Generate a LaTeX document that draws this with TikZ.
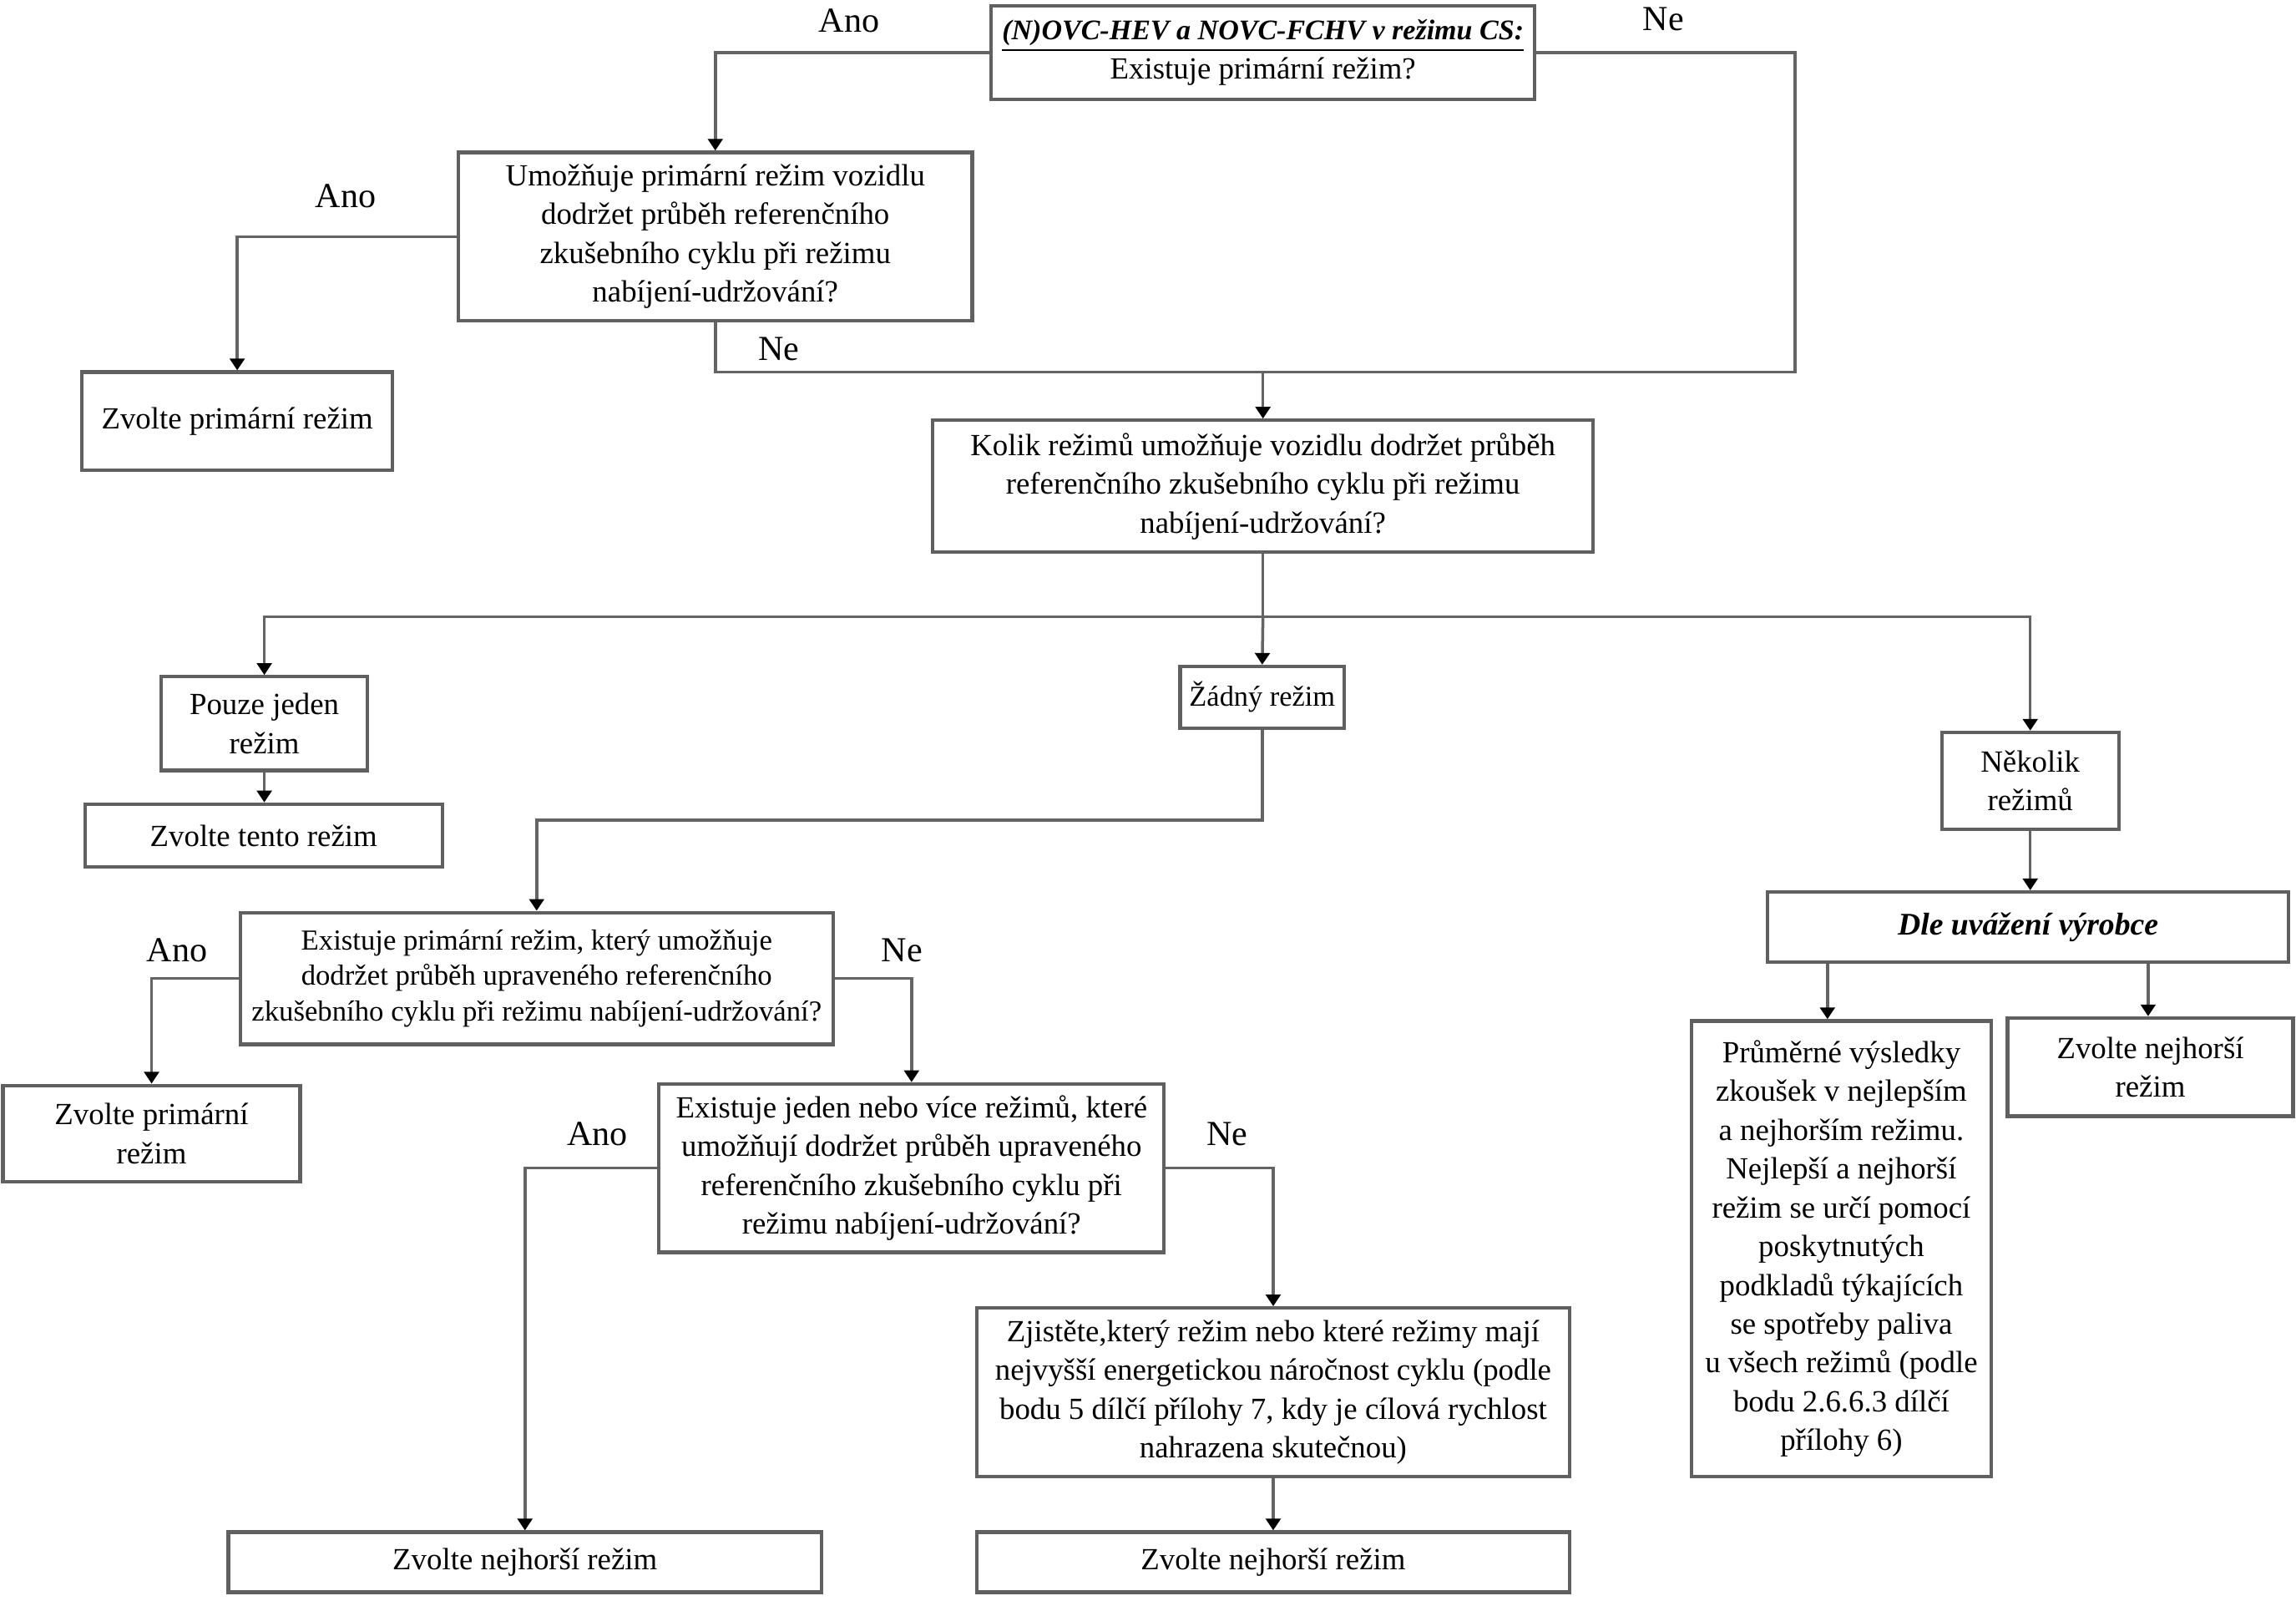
\documentclass[tikz,border=0pt]{standalone}
\usepackage{fontspec}
\setmainfont{Liberation Serif}
\usetikzlibrary{arrows.meta}
\definecolor{boxgray}{RGB}{96,96,96}
\definecolor{linegray}{RGB}{100,100,100}
\begin{document}
\begin{tikzpicture}[x=0.5pt,y=-0.5pt,
  box/.style={draw=boxgray, line width=1.2pt, fill=white, inner sep=0pt, align=center,
              font=\fontsize{10.5}{13.25}\selectfont},
  conn/.style={draw=linegray, line width=1pt},
  arr/.style={conn, -{Triangle[width=5pt,length=4pt,color=black]}},
  lbl/.style={font=\fontsize{12}{14}\selectfont, inner sep=0pt}]

\useasboundingbox (0,0) rectangle (1568,1093);

% boxes
\node[box, minimum width=185.5pt, minimum height=32pt] (top) at (862.5,36)
  {{\fontsize{9.7}{12}\selectfont\bfseries\itshape\underline{(N)OVC-HEV a NOVC-FCHV v režimu CS:}}\\ Existuje primární režim?};
\node[box, minimum width=175.5pt, minimum height=57.5pt] (q1) at (488.5,161.5)
  {Umožňuje primární režim vozidlu\\ dodržet průběh referenčního\\ zkušebního cyklu při režimu\\ nabíjení-udržování?};
\node[box, minimum width=106pt, minimum height=33.5pt] (sel1) at (162,287.5)
  {Zvolte primární režim};
\node[box, minimum width=225.5pt, minimum height=45pt] (q2) at (862.5,332)
  {Kolik režimů umožňuje vozidlu dodržet průběh\\ referenčního zkušebního cyklu při režimu\\ nabíjení-udržování?};
\node[box, minimum width=70.5pt, minimum height=32pt] (one) at (180.5,494)
  {Pouze jeden\\ režim};
\node[box, minimum width=122pt, minimum height=21.5pt] (thisone) at (180,570.5)
  {Zvolte tento režim};
\node[box, minimum width=56pt, minimum height=21pt, font=\fontsize{9.8}{12}\selectfont] (none) at (862,476)
  {Žádný režim};
\node[box, minimum width=60.5pt, minimum height=33pt] (several) at (1386.5,533)
  {Několik\\ režimů};
\node[box, minimum width=178pt, minimum height=24pt, font=\fontsize{10.75}{13}\selectfont\bfseries\itshape] (dle) at (1385,633)
  {Dle uvážení výrobce};
\node[box, minimum width=102.5pt, minimum height=155.5pt] (avg) at (1257.5,852.5)
  {Průměrné výsledky\\ zkoušek v nejlepším\\ a nejhorším režimu.\\ Nejlepší a nejhorší\\ režim se určí pomocí\\ poskytnutých\\ podkladů týkajících\\ se spotřeby paliva\\ u všech režimů (podle\\ bodu 2.6.6.3 dílčí\\ přílohy 6)};
\node[box, minimum width=97.5pt, minimum height=33.5pt] (worst1) at (1468.5,728.5)
  {Zvolte nejhorší\\ režim};
\node[box, minimum width=202.5pt, minimum height=45pt, font=\fontsize{9.9}{12}\selectfont] (q3) at (366.5,668)
  {Existuje primární režim, který umožňuje\\ dodržet průběh upraveného referenčního\\ zkušebního cyklu při režimu nabíjení-udržování?};
\node[box, minimum width=101.5pt, minimum height=33pt] (primary2) at (103.5,774)
  {Zvolte primární\\ režim};
\node[box, minimum width=172.5pt, minimum height=57.5pt] (q4) at (622.5,797.5)
  {Existuje jeden nebo více režimů, které\\ umožňují dodržet průběh upraveného\\ referenčního zkušebního cyklu při\\ režimu nabíjení-udržování?};
\node[box, minimum width=202.5pt, minimum height=57.5pt] (det) at (869.5,950.5)
  {Zjistěte,který režim nebo které režimy mají\\ nejvyšší energetickou náročnost cyklu (podle\\ bodu 5 dílčí přílohy 7, kdy je cílová rychlost\\ nahrazena skutečnou)};
\node[box, minimum width=202.5pt, minimum height=20.5pt] (worst2) at (358.5,1066.5)
  {Zvolte nejhorší režim};
\node[box, minimum width=202.5pt, minimum height=20.5pt] (worst3) at (869.5,1066.5)
  {Zvolte nejhorší režim};

% labels
\node[lbl] (l1) at (580,14) {Ano};
\node[lbl] (l2) at (1136,13) {Ne};
\node[lbl] (l3) at (236,134) {Ano};
\node[lbl] (l4) at (532,238) {Ne};
\node[lbl] (l5) at (121,649) {Ano};
\node[lbl] (l6) at (616,649) {Ne};
\node[lbl] (l7) at (408,774) {Ano};
\node[lbl] (l8) at (838,774) {Ne};

% connectors
\coordinate (m1) at (862.5,254);
\coordinate (r1) at (1226,254);
\coordinate (b) at (862.5,421);
\coordinate (m2) at (862,560);
\coordinate (xa) at (1248,0);
\coordinate (xb) at (1467,0);

\draw[arr] (top.west) -| (q1.north);
\draw[conn] (top.east) -| (r1) -- (m1);
\draw[conn] (q1.south) |- (m1);
\draw[arr] (m1) -- (q2.north);
\draw[arr] (q1.west) -| (sel1.north);
\draw[conn] (q2.south) -- (b);
\draw[arr] (b) -| (one.north);
\draw[arr] (b) -- (none.north);
\draw[arr] (b) -| (several.north);
\draw[arr] (one.south) -- (one.south |- thisone.north);
\draw[arr] (none.south) -- (m2) -| (q3.north);
\draw[arr] (q3.west) -| (primary2.north);
\draw[arr] (q3.east) -| (q4.north);
\draw[arr] (q4.west) -| (worst2.north);
\draw[arr] (q4.east) -| (det.north);
\draw[arr] (det.south) -- (worst3.north);
\draw[arr] (several.south) -- (several.south |- dle.north);
\draw[arr] (dle.south -| xa) -- (avg.north -| xa);
\draw[arr] (dle.south -| xb) -- (worst1.north -| xb);
\end{tikzpicture}
\end{document}
